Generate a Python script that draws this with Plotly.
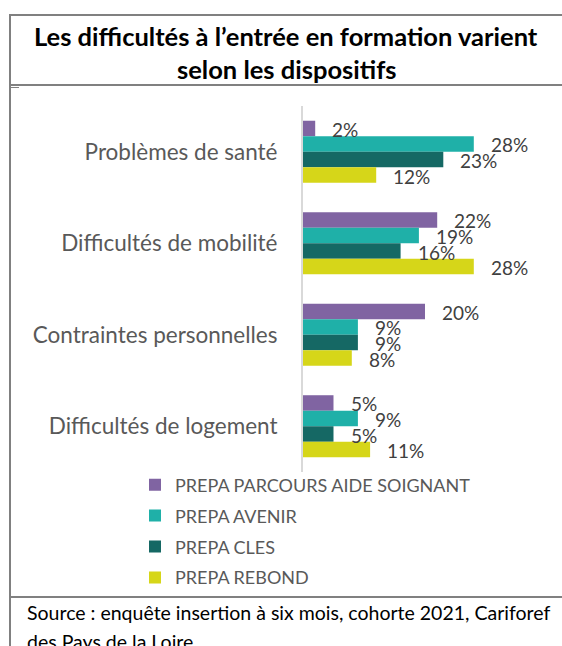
import plotly.graph_objects as go

categories = ["Problèmes de santé", "Difficultés de mobilité", "Contraintes personnelles", "Difficultés de logement"]
series_names = ["PREPA PARCOURS AIDE SOIGNANT", "PREPA AVENIR", "PREPA CLES", "PREPA REBOND"]
aide_soignant = [2, 22, 20, 5]
avenir = [28, 19, 9, 9]
cles = [23, 16, 9, 5]
rebond = [12, 28, 8, 11]
series_values = [aide_soignant, avenir, cles, rebond]
colors = ["#8064a2", "#1fb0a8", "#156864", "#d6d619"]

title_lines = ["Les difficultés à l’entrée en formation varient", "selon les dispositifs"]
source_lines = ["Source : enquête insertion à six mois, cohorte 2021, Cariforef", "des Pays de la Loire."]

W, H = 562, 646
L, R, T, B = 303, 46, 106, 174
PW = W - L - R
PH = H - T - B
PX_PER_UNIT = 6.1
BARGAP = 0.322
FONT = "Lato"


def fx(x):
    return (x - L) / PW


def fy(y):
    return 1 - (y - T) / PH


fig = go.Figure()
for i, (name, vals) in enumerate(zip(series_names, series_values)):
    fig.add_trace(go.Bar(
        name=name, y=categories, x=vals, orientation="h",
        marker=dict(color=colors[i], line=dict(width=0)),
        legendgroup=f"g{i}", hoverinfo="skip",
    ))

bar_px = PH / len(categories) * (1 - BARGAP) / len(series_names)
annotations = []
for i, vals in enumerate(series_values):
    for j, v in enumerate(vals):
        annotations.append(dict(
            x=v, y=categories[j], xref="x", yref="y", text=f"{v}%",
            showarrow=False, xanchor="left", yanchor="middle",
            xshift=15, yshift=(1.5 - i) * bar_px - 1,
            font=dict(family=FONT, size=19, color="#404040"),
        ))

for k, (line, yc) in enumerate(zip(title_lines, [36, 69])):
    annotations.append(dict(
        x=fx(286), y=fy(yc), xref="paper", yref="paper", text=f"<b>{line}</b>",
        showarrow=False, xanchor="center", yanchor="middle",
        font=dict(family=FONT, size=25.5, color="#000000"),
    ))

for k, (line, yc) in enumerate(zip(source_lines, [612, 641])):
    annotations.append(dict(
        x=fx(25), y=fy(yc), xref="paper", yref="paper", text=line,
        showarrow=False, xanchor="left", yanchor="middle",
        font=dict(family=FONT, size=19.5, color="#000000"),
    ))

border = dict(color="#808080", width=2)
shapes = [
    dict(type="line", xref="paper", yref="paper", x0=fx(9), x1=fx(570), y0=fy(15), y1=fy(15), line=border),
    dict(type="line", xref="paper", yref="paper", x0=fx(10), x1=fx(10), y0=fy(14), y1=fy(660), line=border),
    dict(type="line", xref="paper", yref="paper", x0=fx(10), x1=fx(570), y0=fy(85), y1=fy(85), line=border),
    dict(type="line", xref="paper", yref="paper", x0=fx(10), x1=fx(19), y0=fy(87.5), y1=fy(87.5), line=dict(color="#808080", width=1)),
    dict(type="line", xref="paper", yref="paper", x0=fx(10), x1=fx(570), y0=fy(597), y1=fy(597), line=border),
]

fig.update_layout(
    width=W, height=H, autosize=False,
    margin=dict(l=L, r=R, t=T, b=B, pad=0),
    paper_bgcolor="white", plot_bgcolor="white",
    barmode="group", bargap=BARGAP, bargroupgap=0,
    xaxis=dict(range=[0, PW / PX_PER_UNIT], visible=False, fixedrange=True),
    yaxis=dict(autorange="reversed", showline=True, linecolor="#d9d9d9", linewidth=2,
               showgrid=False, zeroline=False, ticks="", ticklabelstandoff=19,
               tickfont=dict(family=FONT, size=22.5, color="#595959"), fixedrange=True),
    showlegend=True,
    legend=dict(x=fx(135), y=fy(466.5), xref="paper", yref="paper", xanchor="left", yanchor="top",
                traceorder="grouped", tracegroupgap=4.5, bgcolor="rgba(0,0,0,0)",
                font=dict(family=FONT, size=18, color="#595959"), itemclick=False, itemdoubleclick=False),
    annotations=annotations,
    shapes=shapes,
)

fig.write_html("out.html", config={"displayModeBar": False},
               post_script="document.body.style.margin='0';")
